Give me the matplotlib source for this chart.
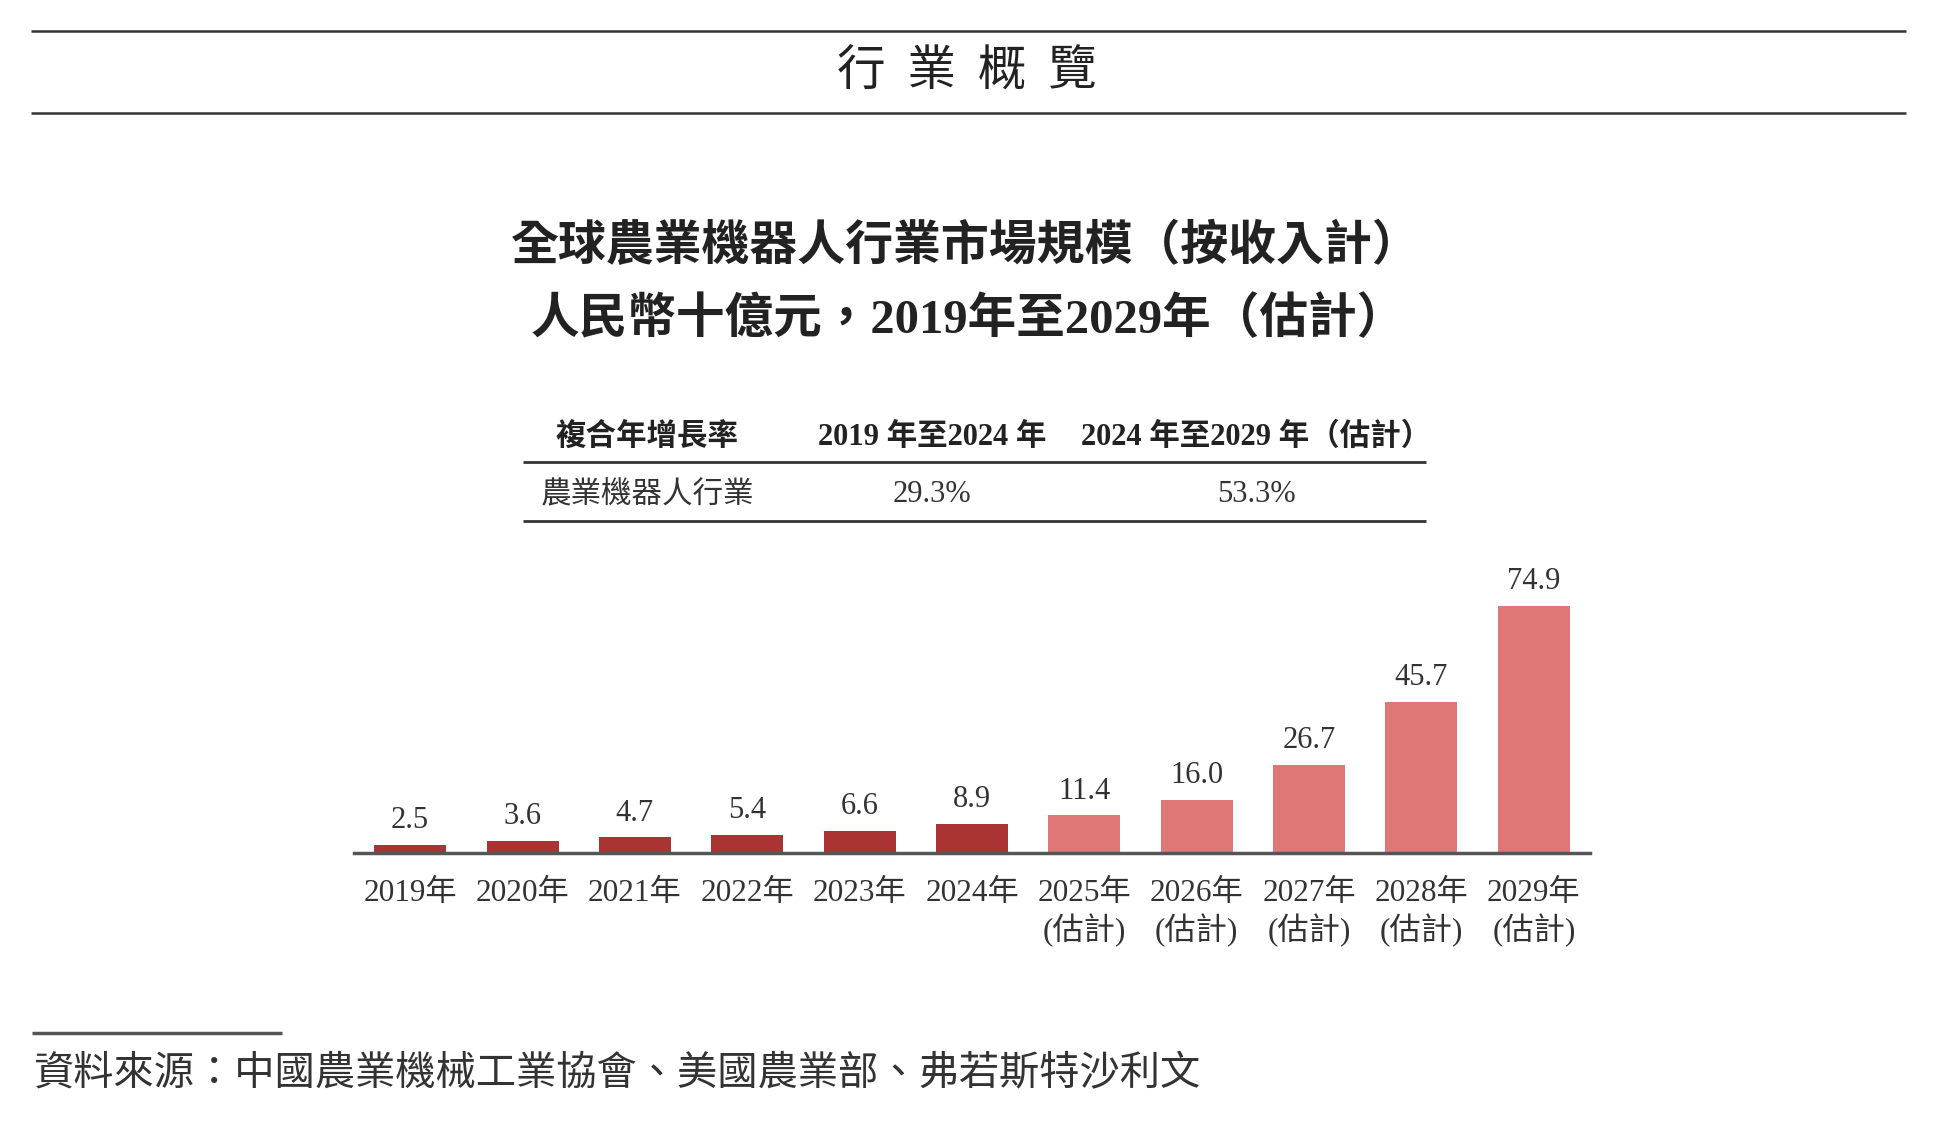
import matplotlib
matplotlib.use('Agg')
import matplotlib.pyplot as plt
from matplotlib.lines import Line2D

# data
years = ['2019年', '2020年', '2021年', '2022年', '2023年', '2024年',
         '2025年', '2026年', '2027年', '2028年', '2029年']
estimated = [False, False, False, False, False, False, True, True, True, True, True]
values = [2.5, 3.6, 4.7, 5.4, 6.6, 8.9, 11.4, 16.0, 26.7, 45.7, 74.9]

cagr_header = ['複合年增長率', '2019 年至2024 年', '2024 年至2029 年（估計）']
cagr_row = ['農業機器人行業', '29.3%', '53.3%']

section = '行  業  概  覽'
title1 = '全球農業機器人行業市場規模（按收入計）'
title2 = '人民幣十億元，2019年至2029年（估計）'
source = '資料來源：中國農業機械工業協會、美國農業部、弗若斯特沙利文'

CJK = ['Noto Sans CJK TC', 'DejaVu Sans']
SERIF_CJK = ['Liberation Serif', 'Noto Sans CJK TC']
DARK = '#AA3333'
LIGHT = '#E07777'

W, H = 1936, 1123
fig = plt.figure(figsize=(W / 100, H / 100), dpi=100)


def fx(x):
    return x / W


def fy(y):
    return 1 - y / H


def hline(x0, x1, y, lw=2.0, color='#333333'):
    fig.add_artist(Line2D([fx(x0), fx(x1)], [fy(y), fy(y)], transform=fig.transFigure,
                          color=color, lw=lw, solid_capstyle='butt'))


# page header
hline(31, 1906, 31, lw=1.8)
hline(31, 1906, 113, lw=1.8)
fig.text(fx(967), fy(72), section, family=CJK, fontsize=35, color='#222222',
         ha='center', va='center')

# chart titles
fig.text(fx(966), fy(245), title1, family=CJK, fontsize=34.5, fontweight='bold',
         color='#222222', ha='center', va='center')
fig.text(fx(968), fy(320), title2, family=SERIF_CJK, fontsize=35, fontweight='bold',
         color='#222222', ha='center', va='center')

# CAGR table
col_x = [647, 932, 1256]
hline(523, 1426, 462, lw=2.0)
hline(523, 1426, 521, lw=2.0)
for cx, txt in zip(col_x, cagr_header):
    fig.text(fx(cx), fy(437), txt, family=SERIF_CJK, fontsize=22, fontweight='bold',
             color='#222222', ha='center', va='center')
for cx, txt in zip(col_x, cagr_row):
    fig.text(fx(cx), fy(495), txt, family=SERIF_CJK, fontsize=22,
             color='#333333', ha='center', va='center')

# bar chart
ax = fig.add_axes([fx(354), fy(853), (1590 - 354) / W, 264 / H])
xs = range(len(values))
colors = [LIGHT if e else DARK for e in estimated]
bars = ax.bar(xs, values, width=0.64, color=colors, zorder=2)
ax.set_xlim(-0.5, len(values) - 0.5)
ax.set_ylim(0, 80)

for b, v in zip(bars, values):
    ax.annotate(f'{v:.1f}', (b.get_x() + b.get_width() / 2, v), xytext=(0, 7),
                textcoords='offset points', ha='center', va='bottom',
                family=SERIF_CJK, fontsize=22, color='#333333', annotation_clip=False)

# estimate years get a second line; narrow parens keep neighbours apart
labels = [y + '\n(估計)' if e else y for y, e in zip(years, estimated)]
ax.set_xticks(list(xs))
ax.set_xticklabels(labels, family=SERIF_CJK, fontsize=22.5, color='#333333',
                   linespacing=1.18)
ax.tick_params(axis='x', length=0, pad=19)
ax.set_yticks([])
for side in ['left', 'right', 'top']:
    ax.spines[side].set_visible(False)
ax.spines['bottom'].set_color('#555555')
ax.spines['bottom'].set_linewidth(2.5)
ax.spines['bottom'].set_zorder(3)
ax.patch.set_alpha(0)

# source note
hline(32, 282, 1033, lw=2.5, color='#555555')
fig.text(fx(33), fy(1074), source, family=CJK, fontsize=29, color='#333333',
         ha='left', va='center')

fig.savefig('out.png', dpi=100)
